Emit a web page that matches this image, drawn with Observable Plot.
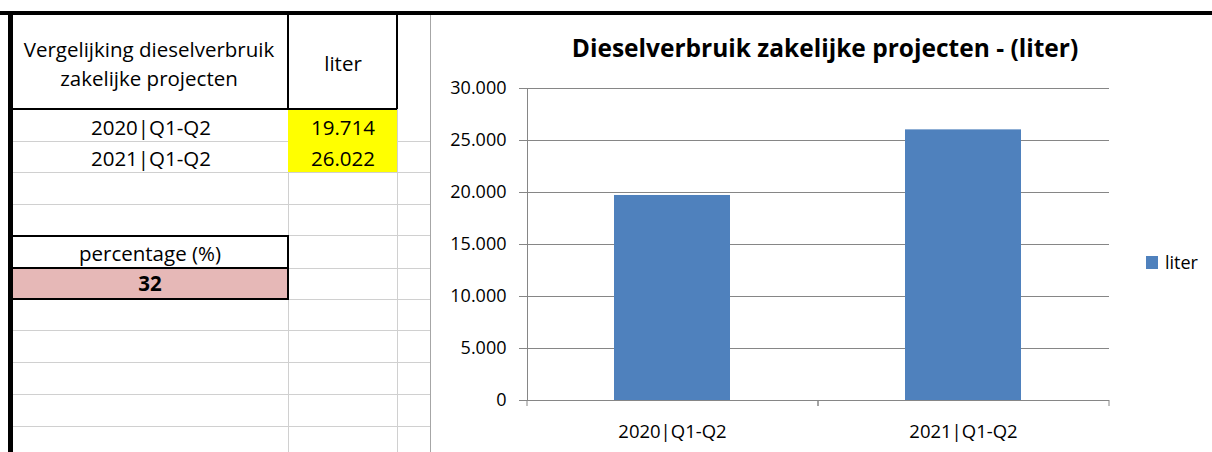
<!DOCTYPE html>
<html><head><meta charset="utf-8">
<script src="https://cdn.jsdelivr.net/npm/d3@7"></script>
<script src="https://cdn.jsdelivr.net/npm/@observablehq/plot@0.6"></script>
<style>
body{margin:0;background:#fff;font-family:"Open Sans",Lato,sans-serif;}
#page{position:relative;width:1212px;height:452px;overflow:hidden;background:#fff;}
#table{position:absolute;left:0;top:0;}
#chart{position:absolute;left:430px;top:14px;width:782px;height:438px;}
#title{position:absolute;left:430px;width:790px;top:33px;text-align:center;font-weight:700;font-size:24.5px;line-height:30px;color:#000;}
#legend{position:absolute;left:1146px;top:252px;font-size:18px;line-height:20px;color:#000;display:flex;align-items:center;}
#legend span.sw{display:inline-block;width:12px;height:13px;background:#4F81BD;margin-right:7px;}
</style></head><body><div id="page"><svg id="table" width="1212" height="452"></svg><div id="chart"></div><div id="title"></div><div id="legend"></div></div>
<script>
// ---- data ----
const categories = ["2020|Q1-Q2", "2021|Q1-Q2"];
const liters = [19714, 26022];
const seriesName = "liter";
const yTicks = [0, 5000, 10000, 15000, 20000, 25000, 30000];
const tableTitle = ["Vergelijking dieselverbruik", "zakelijke projecten"];
const chartTitle = "Dieselverbruik zakelijke projecten - (liter)";
const pctLabel = "percentage (%)";

const fmt = d3.formatLocale({decimal: ",", thousands: ".", grouping: [3], currency: ["€", ""]}).format(",");
const pct = Math.round((liters[1] - liters[0]) / liters[0] * 100);
const FONT = "'Open Sans', Lato, sans-serif";

// ---- spreadsheet part ----
const t = d3.select("#table");
const gray = "#d0d0d0";
const rowLines = [141, 172, 204, 235, 268, 299, 330, 362, 394, 426];
rowLines.forEach(y => t.append("line").attr("x1", 12).attr("x2", 430).attr("y1", y + 0.5).attr("y2", y + 0.5).attr("stroke", gray));
[288, 397].forEach(x => t.append("line").attr("x1", x + 0.5).attr("x2", x + 0.5).attr("y1", 14).attr("y2", 452).attr("stroke", gray));
t.append("line").attr("x1", 430.5).attr("x2", 430.5).attr("y1", 14).attr("y2", 452).attr("stroke", "#a6a6a6");
t.append("rect").attr("x", 288).attr("y", 109).attr("width", 109).attr("height", 63).attr("fill", "#FFFF00");
t.append("rect").attr("x", 12).attr("y", 268).attr("width", 276).attr("height", 31).attr("fill", "#E6B8B7");
const blk = (x1, y1, x2, y2, w) => t.append("line").attr("x1", x1).attr("y1", y1).attr("x2", x2).attr("y2", y2).attr("stroke", "#000").attr("stroke-width", w);
blk(12, 109, 397, 109, 2);
blk(288, 14, 288, 109, 2);
blk(397, 14, 397, 109, 2);
blk(12, 236, 288, 236, 2);
blk(12, 268, 288, 268, 2);
blk(12, 299, 288, 299, 2);
blk(288, 235, 288, 300, 2);
blk(0, 13, 1212, 13, 4);
blk(10.5, 11, 10.5, 452, 5);
const txt = (s, x, y, opts = {}) => t.append("text").attr("x", x).attr("y", y).attr("text-anchor", "middle")
  .attr("font-family", FONT).attr("font-size", opts.size || 20.5).attr("font-weight", opts.bold ? 700 : 400).attr("fill", "#000").text(s);
txt(tableTitle[0], 149, 57);
txt(tableTitle[1], 149, 86);
txt(seriesName, 343, 71);
categories.forEach((c, i) => { txt(c, 151, 135 + i * 31); txt(fmt(liters[i]), 343, 135 + i * 31); });
txt(pctLabel, 150, 261);
txt(String(pct), 150, 291, {bold: true});

// ---- chart ----
const data = categories.map((c, i) => ({category: c, liter: liters[i]}));
const W = 782, H = 438, mL = 97, mR = 103, mT = 74, mB = 52;
const pIn = 0.6, pOut = 0.3;
const step = (W - mL - mR) / (categories.length - pIn + 2 * pOut);
const chart = Plot.plot({
  width: W, height: H, marginLeft: mL, marginRight: mR, marginTop: mT, marginBottom: mB,
  style: {fontFamily: FONT, background: "transparent", color: "#000", overflow: "visible"},
  x: {domain: categories, paddingInner: pIn, paddingOuter: pOut, axis: null},
  y: {domain: [0, 30000], axis: null},
  marks: [
    Plot.gridY(yTicks, {stroke: "#868686", strokeOpacity: 1}),
    Plot.barY(data, {x: "category", y: "liter", fill: "#4F81BD"}),
    Plot.ruleY([0], {stroke: "#868686"}),
    Plot.frame({anchor: "left", stroke: "#868686"}),
    Plot.axisY(yTicks, {tickSize: 8, tickPadding: 13, tickFormat: fmt, stroke: "#868686", color: "#000", fontSize: 18, label: null}),
    Plot.axisX({tickSize: 6, tickFormat: () => "", dx: -step / 2, stroke: "#868686", label: null}),
    Plot.axisX({tickSize: 6, tickFormat: () => "", dx: step / 2, stroke: "#868686", label: null}),
    Plot.axisX({tickSize: 0, tickPadding: 24, fontSize: 18.5, color: "#000", label: null})
  ]
});
document.getElementById("chart").appendChild(chart);
document.getElementById("title").textContent = chartTitle;
document.getElementById("legend").innerHTML = `<span class="sw"></span><span>${seriesName}</span>`;
</script></body></html>
